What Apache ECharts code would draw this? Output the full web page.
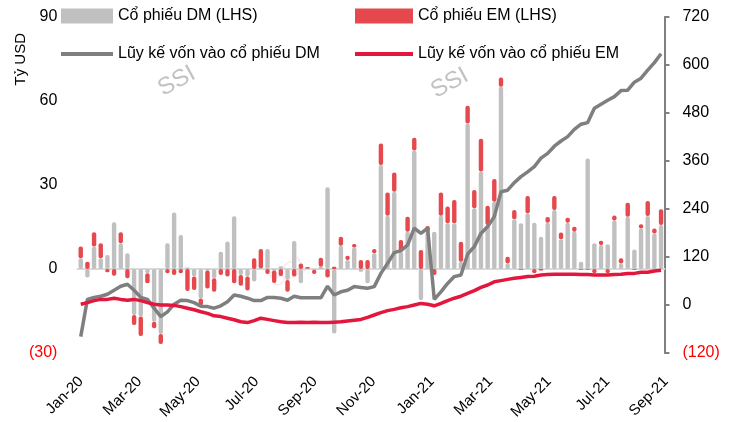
<!DOCTYPE html>
<html>
<head>
<meta charset="utf-8">
<script src="https://cdn.jsdelivr.net/npm/echarts@6/dist/echarts.min.js"></script>
<style>
html,body{margin:0;padding:0;background:#fff;}
#flowChart{width:733px;height:422px;}
</style>
</head>
<body>
<div id="flowChart"></div>
<script>
// Dòng vốn vào cổ phiếu DM / EM theo tuần
// bar chồng (LHS) + đường lũy kế (RHS)

const tickLabels = ["Jan-20","Mar-20","May-20","Jul-20","Sep-20","Nov-20","Jan-21","Mar-21","May-21","Jul-21","Sep-21"];

const weekStart = new Date(2020, 0, 3);
const weeks = [];
for (let i = 0; i < 88; i++) {
  const d = new Date(weekStart.getTime() + i * 7 * 86400000);
  weeks.push(d.getFullYear() + "-" + (d.getMonth() + 1) + "-" + d.getDate());
}

const dmFlow = [
3.8,-3.0,8.0,3.8,5.0,16.7,9.2,5.6,-16.4,-17.0,
-1.5,-18.8,-23.2,9.2,20.2,12.1,0.5,-2.7,-10.5,-0.5,
-3.3,6.2,9.8,18.8,-2.1,-2.7,-4.5,0.3,7.1,-0.5,
1.0,-3.9,10.0,-5.1,0.2,-0.3,0.8,29.2,-23.0,8.3,
3.2,7.7,-1.0,-5.1,5.6,37.1,19.0,27.6,6.2,13.3,
42.3,-11.1,13.3,13.3,19.0,16.3,16.3,2.6,52.0,21.7,
34.8,15.7,24.0,65.1,2.0,17.8,16.3,19.9,16.5,11.5,
16.5,21.1,10.6,16.5,13.3,2.6,39.5,9.2,8.6,8.8,
17.3,2.0,18.7,7.0,14.5,18.9,12.7,15.7
];

const emFlow = [
4.2,2.6,5.1,5.4,-1.2,-2.4,3.9,-3.3,-3.6,-6.9,
-3.6,-2.4,-3.6,-1.5,-2.1,-1.5,-7.9,-4.8,-2.5,-6.5,
-4.8,-2.1,-2.7,-5.1,-3.9,-5.0,3.8,6.8,-1.8,-4.5,
-2.5,-4.2,-2.7,2.0,0.5,-1.5,3.2,-3.0,0.8,3.2,
1.5,1.2,3.2,3.2,1.5,7.7,8.3,6.9,4.2,5.4,
4.6,6.8,2.1,-2.1,8.3,6.0,8.3,7.1,6.3,6.5,
11.7,6.9,8.1,3.3,2.4,3.3,-0.3,6.2,-1.5,-0.5,
2.1,5.0,2.4,1.8,1.8,-0.3,-0.3,-1.5,1.5,-1.5,
1.8,1.8,5.0,-0.3,1.5,5.4,1.8,5.6
];

const dmCum = [
-79,14,19,22,27,37,47,52,37,19,
14,-8,-29,-17,2,12,11,6,-3,-4,
-8,-2,8,25,22,17,11,11,19,19,
17,12,22,18,18,18,18,47,25,33,
37,46,44,42,46,79,104,131,136,150,
192,179,192,14,33,54,71,75,127,146,
179,196,221,283,287,306,321,333,346,367,
379,397,410,421,439,452,456,492,502,512,
521,536,537,557,567,587,606,628
];

const emCum = [
2,6,11,14,14,17,14,12,14,11,
6,2,0,0,-1,-4,-8,-12,-17,-21,
-27,-29,-33,-37,-42,-44,-39,-33,-36,-39,
-42,-44,-44,-43,-44,-43,-44,-44,-43,-42,
-40,-38,-36,-31,-25,-19,-14,-11,-7,-4,
0,4,2,-2,4,11,17,22,29,36,
44,50,58,61,64,67,69,71,72,75,
76,77,77,77,77,76,76,75,75,75,
76,77,79,79,82,82,85,87
];

const fontFamily = "'Liberation Sans','Arial',sans-serif";

const flowDom = document.getElementById("flowChart");
const flowChart = echarts.init(flowDom);

const negLabel = v => (v < 0 ? "(" + (-v) + ")" : String(v));
const negColor = v => (v < 0 ? "#FF0000" : "#000000");

const legendText = {
  color: "#000",
  fontSize: 16,
  fontFamily: fontFamily
};

const option = {

  backgroundColor: "#ffffff",
  animation: false,

  textStyle: { fontFamily: fontFamily },

  legend: [
    { data: ["Cổ phiếu DM (LHS)"], left: 61, top: 8, padding: 0, itemWidth: 52, itemHeight: 15, icon: "rect", textStyle: legendText },
    { data: ["Cổ phiếu EM (LHS)"], left: 355, top: 8, padding: 0, itemWidth: 58, itemHeight: 15, icon: "rect", textStyle: legendText },
    { data: ["Lũy kế vốn vào cổ phiếu DM"], left: 61, top: 46, padding: 0, itemWidth: 52, itemHeight: 4, icon: "rect", textStyle: legendText },
    { data: ["Lũy kế vốn vào cổ phiếu EM"], left: 355, top: 46, padding: 0, itemWidth: 58, itemHeight: 4, icon: "rect", textStyle: legendText }
  ],

  grid: [
    { left: 77.4, right: 68.6, top: 17, bottom: 69 },
    { left: 81, right: 67, top: 373, height: 1 }
  ],

  xAxis: [
    {
      type: "category",
      gridIndex: 0,
      data: weeks,
      axisLine: { onZero: true, onZeroAxisIndex: 0, lineStyle: { color: "#D9D9D9", width: 2 } },
      axisTick: { show: false },
      axisLabel: { show: false }
    },
    {
      type: "category",
      gridIndex: 1,
      data: tickLabels,
      boundaryGap: false,
      axisLine: { show: false },
      axisTick: { show: false },
      axisLabel: {
        interval: 0,
        rotate: 45,
        margin: 6,
        color: "#000",
        fontSize: 15,
        fontFamily: fontFamily
      }
    }
  ],

  yAxis: [
    {
      type: "value",
      gridIndex: 0,
      min: -30,
      max: 90,
      interval: 30,
      axisLine: { show: false },
      axisTick: { show: false },
      splitLine: { show: false },
      axisLabel: {
        formatter: negLabel,
        color: negColor,
        fontSize: 16,
        margin: 20
      }
    },
    {
      type: "value",
      gridIndex: 0,
      position: "right",
      min: -120,
      max: 720,
      interval: 120,
      axisLine: { show: true, lineStyle: { color: "#808080", width: 2 } },
      axisTick: { show: true, length: 5, lineStyle: { color: "#808080", width: 2 } },
      splitLine: { show: false },
      axisLabel: {
        formatter: negLabel,
        color: negColor,
        fontSize: 16,
        margin: 18
      }
    },
    {
      type: "value",
      gridIndex: 1,
      show: false
    }
  ],

  graphic: [
    {
      type: "text",
      left: 13,
      top: 33,
      rotation: Math.PI / 2,
      style: { text: "Tỷ USD", fill: "#000", font: "15px " + fontFamily }
    },
    {
      type: "text", x: 154, y: 80, rotation: 0.5,
      style: { text: "SSI", fill: "rgba(120,120,120,0.45)", font: "24px sans-serif" }
    },
    {
      type: "text", x: 427, y: 82, rotation: 0.5,
      style: { text: "SSI", fill: "rgba(120,120,120,0.45)", font: "24px sans-serif" }
    },
    {
      type: "text", x: 265, y: 272, rotation: 0.5,
      style: { text: "SSI", fill: "rgba(230,90,120,0.12)", font: "24px sans-serif" }
    }
  ],

  series: [
    {
      name: "Cổ phiếu DM (LHS)",
      type: "bar",
      stack: "flow",
      barWidth: 4.4,
      data: dmFlow,
      itemStyle: { color: "#C0C0C0", borderRadius: 2 },
      z: 2
    },
    {
      name: "Cổ phiếu EM (LHS)",
      type: "bar",
      stack: "flow",
      barWidth: 4.4,
      data: emFlow,
      itemStyle: { color: "#E5484D", borderRadius: 2 },
      z: 2
    },
    {
      name: "Lũy kế vốn vào cổ phiếu DM",
      type: "line",
      yAxisIndex: 1,
      data: dmCum,
      symbol: "none",
      lineStyle: { color: "#7F7F7F", width: 3.5 },
      itemStyle: { color: "#7F7F7F" },
      z: 3
    },
    {
      name: "Lũy kế vốn vào cổ phiếu EM",
      type: "line",
      yAxisIndex: 1,
      data: emCum,
      symbol: "none",
      lineStyle: { color: "#E3173E", width: 3.5 },
      itemStyle: { color: "#E3173E" },
      z: 4
    }
  ]

};

flowChart.setOption(option);

window.addEventListener("resize", () => flowChart.resize());
</script>
</body>
</html>
